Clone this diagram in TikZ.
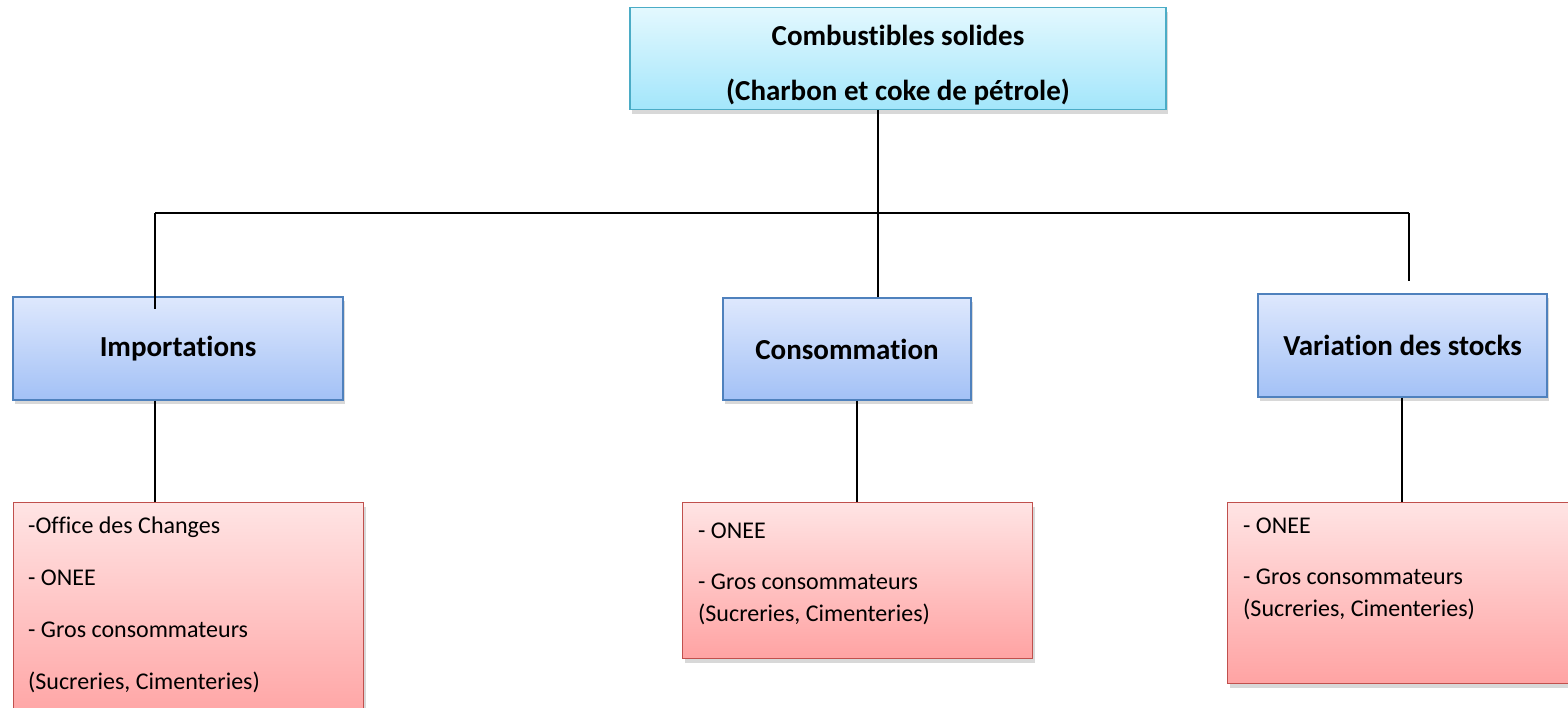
\documentclass[tikz,border=0pt]{standalone}
\usepackage{fontspec}
\setmainfont{Carlito}[Ligatures=NoCommon]
\usetikzlibrary{shadows}
\definecolor{topA}{HTML}{E3F8FE}
\definecolor{topB}{HTML}{A3E6FB}
\definecolor{topE}{HTML}{4BACC6}
\definecolor{bluA}{HTML}{DEE8FD}
\definecolor{bluB}{HTML}{A3C1F6}
\definecolor{bluE}{HTML}{4F81BD}
\definecolor{redA}{HTML}{FFE4E4}
\definecolor{redB}{HTML}{FFA3A3}
\definecolor{redE}{HTML}{C0504D}
\tikzset{
  boxbase/.style={rectangle, inner sep=0pt, line width=1.4pt,
    drop shadow={opacity=0.3, shadow xshift=2pt, shadow yshift=-4pt}},
  topbox/.style={boxbase, draw=topE, top color=topA, bottom color=topB},
  bluebox/.style={boxbase, draw=bluE, top color=bluA, bottom color=bluB,
    font=\fontsize{29}{35}\selectfont\bfseries},
  redbox/.style={boxbase, draw=redE, top color=redA, bottom color=redB},
  boldtxt/.style={inner sep=0pt, font=\fontsize{29}{35}\selectfont\bfseries},
  regtxt/.style={inner sep=0pt, anchor=base west, font=\fontsize{24}{28}\selectfont},
  link/.style={line width=1.6pt, black},
}
\begin{document}
\begin{tikzpicture}[x=1pt, y=-1pt]
\clip (0,0) rectangle (1568,707);
\path[use as bounding box] (0,0) rectangle (1568,707);
\fill[white] (0,0) rectangle (1568,707);

% coordinates of the connector lines
\coordinate (hl) at (155,213);
\coordinate (hm) at (878,213);
\coordinate (hr) at (1409,213);
\coordinate (hrend) at (1409,281);
\coordinate (hlend) at (155,309);

\draw[link] (hl) -- (hr);
\draw[link] (hr) -- (hrend);

% top box
\node[topbox, minimum width=536pt, minimum height=102pt] (top) at (898,58.5) {};
\node[boldtxt, anchor=base] (toptxt1) at (898,45) {Combustibles solides};
\node[boldtxt, anchor=base] (toptxt2) at (898,100) {(Charbon et coke de pétrole)};

% level 2 boxes
\node[bluebox, minimum width=330pt, minimum height=103pt] (imp) at (178,348.5) {Importations};
\node[bluebox, minimum width=248pt, minimum height=102pt] (cons) at (847,349) {Consommation};
\node[bluebox, minimum width=289pt, minimum height=103pt] (var) at (1402.5,345.5) {Variation des stocks};

% red boxes
\node[redbox, anchor=north west, minimum width=350pt, minimum height=220pt] (r1) at (13,502) {};
\node[redbox, anchor=north west, minimum width=350pt, minimum height=156pt] (r2) at (682,502) {};
\node[redbox, anchor=north west, minimum width=360pt, minimum height=181pt] (r3) at (1227,502) {};

% texts of red boxes
\node[regtxt] (r1a) at (28,533) {-Office des Changes};
\node[regtxt] (r1b) at (28,585) {- ONEE};
\node[regtxt] (r1c) at (28,637) {- Gros consommateurs};
\node[regtxt] (r1d) at (28,689) {(Sucreries, Cimenteries)};

\node[regtxt] (r2a) at (698,538) {- ONEE};
\node[regtxt] (r2b) at (698,589) {- Gros consommateurs};
\node[regtxt] (r2c) at (698,621) {(Sucreries, Cimenteries)};

\node[regtxt] (r3a) at (1243,533) {- ONEE};
\node[regtxt] (r3b) at (1243,584) {- Gros consommateurs};
\node[regtxt] (r3c) at (1243,616) {(Sucreries, Cimenteries)};

% remaining connectors
\draw[link] (hm |- top.south) -- (hm |- cons.north);
\draw[link] (hl) -- (hlend);
\draw[link] (hl |- imp.south) -- (hl |- r1.north);
\draw[link] (857,0 |- cons.south) -- (857,0 |- r2.north);
\draw[link] (1402,0 |- var.south) -- (1402,0 |- r3.north);
\end{tikzpicture}
\end{document}
